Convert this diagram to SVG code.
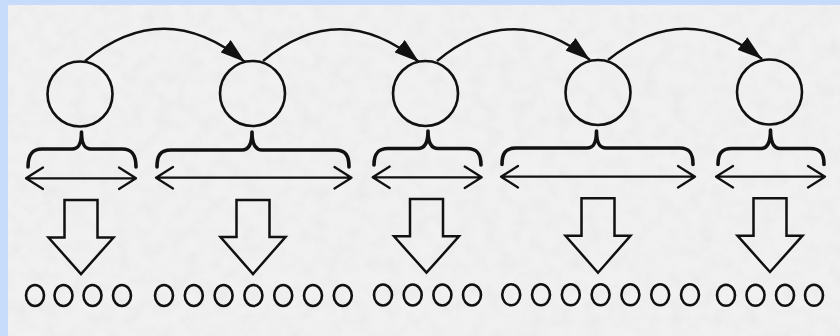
<svg xmlns="http://www.w3.org/2000/svg" width="840" height="336" viewBox="0 0 840 336">
  <defs>
    <style>
      .node { fill: none; stroke: #111; stroke-width: 2.6; }
      .conn { fill: none; stroke: #111; stroke-width: 2.4; }
      .brace { fill: none; stroke: #111; stroke-width: 3.6; stroke-linecap: round; stroke-linejoin: round; }
      .span { fill: none; stroke: #111; stroke-width: 2.3; stroke-linecap: round; stroke-linejoin: round; }
      .block { fill: none; stroke: #111; stroke-width: 2.5; stroke-linejoin: miter; }
      .item { fill: none; stroke: #111; stroke-width: 2.6; }
    </style>
    <marker id="head" markerUnits="userSpaceOnUse" markerWidth="26" markerHeight="16" refX="25" refY="8" orient="auto">
      <path d="M0,0 L25,8 L0,16 z" fill="#111"/>
    </marker>
    <filter id="paper" x="0" y="0" width="100%" height="100%">
      <feTurbulence type="fractalNoise" baseFrequency="0.07" numOctaves="4" seed="7" result="n"/>
      <feColorMatrix in="n" type="matrix" values="0 0 0 0 0.5  0 0 0 0 0.5  0 0 0 0 0.5  1.6 0 0 0 -0.6"/>
    </filter>
  </defs>

  <rect x="0" y="0" width="840" height="336" fill="#c6dcfa"/>
  <rect x="8" y="5" width="832" height="331" fill="#f1f1f1"/>
  <rect x="8" y="5" width="832" height="331" filter="url(#paper)" opacity="0.12"/>

  <g id="connectors">
    <path class="conn" d="M85,61 Q164,-4 245,62" marker-end="url(#head)"/>
    <path class="conn" d="M263,61 Q340,-3 419,62" marker-end="url(#head)"/>
    <path class="conn" d="M437,61 Q513,-2 590,60" marker-end="url(#head)"/>
    <path class="conn" d="M608,60 Q685,-2 762,59" marker-end="url(#head)"/>
  </g>

  <g id="node1"><circle class="node" cx="80" cy="94" r="32.5"/></g>
  <g id="node2"><circle class="node" cx="252.5" cy="93.5" r="32.5"/></g>
  <g id="node3"><circle class="node" cx="425.5" cy="93.5" r="32.5"/></g>
  <g id="node4"><circle class="node" cx="598" cy="92.5" r="32.5"/></g>
  <g id="node5"><circle class="node" cx="769.5" cy="92" r="32.5"/></g>

  <g id="braces">
    <path class="brace" d="M28,167 C28,156 31,149 42,149 L72,149 C78,149 81.5,145 81.5,132 C81.5,145 85,149 91,149 L122,149 C133,149 136,156 136,167"/>
    <path class="brace" d="M157,167 C157,156 160,150 171,150 L242,150 C248,150 252,146 252,132 C252,146 256,150 262,150 L335,150 C346,150 349,156 349,167"/>
    <path class="brace" d="M374,165 C374,155 377,148.5 388,148.5 L418,148.5 C424,148.5 428,144 428,131 C428,144 432,148.5 438,148.5 L467,148.5 C478,148.5 481,155 481,165"/>
    <path class="brace" d="M502,164.5 C502,154 505,148 516,148 L587,148 C593,148 596.5,144 596.5,131 C596.5,144 600,148 606,148 L680,148 C690,148 693,154 693,164.5"/>
    <path class="brace" d="M718,164.5 C718,154 721,148.5 732,148.5 L761,148.5 C767,148.5 770.5,144 770.5,130 C770.5,144 774,148.5 780,148.5 L810,148.5 C821,148.5 824,154 824,164.5"/>
  </g>

  <g id="spans">
    <path class="span" d="M26,178.3 L136,178.3 M43,167.5 L26,178.3 L43,189 M119,167.5 L136,178.3 L119,189"/>
    <path class="span" d="M156,177.7 L351.5,177.7 M173,167 L156,177.7 L173,188.5 M334.5,167 L351.5,177.7 L334.5,188.5"/>
    <path class="span" d="M372.7,177.3 L481.7,177.3 M389.7,166.5 L372.7,177.3 L389.7,188 M464.7,166.5 L481.7,177.3 L464.7,188"/>
    <path class="span" d="M501,176.7 L695,176.7 M518,166 L501,176.7 L518,187.5 M678,166 L695,176.7 L678,187.5"/>
    <path class="span" d="M716,176.7 L825,176.7 M733,166 L716,176.7 L733,187.5 M808,166 L825,176.7 L808,187.5"/>
  </g>

  <g id="blocks">
    <polygon class="block" points="64.5,200 97.5,200 97.5,237.5 113.5,237.5 81,274 48.5,237.5 64.5,237.5"/>
    <polygon class="block" points="236.5,200 269.5,200 269.5,237 285.5,237 253,274 220.5,237 236.5,237"/>
    <polygon class="block" points="410,199 443,199 443,236.3 459,236.3 426.5,272.7 394,236.3 410,236.3"/>
    <polygon class="block" points="581.5,198.3 614.5,198.3 614.5,235.7 630.5,235.7 598,272.7 565.5,235.7 581.5,235.7"/>
    <polygon class="block" points="753.5,198.3 786.5,198.3 786.5,235.7 802.5,235.7 770,272 737.5,235.7 753.5,235.7"/>
  </g>

  <g id="items">
    <ellipse class="item" cx="35" cy="295.5" rx="9" ry="10.5"/>
    <ellipse class="item" cx="63.5" cy="295.5" rx="9" ry="10.5"/>
    <ellipse class="item" cx="92.5" cy="295.5" rx="9" ry="10.5"/>
    <ellipse class="item" cx="122" cy="295.5" rx="9" ry="10.5"/>

    <ellipse class="item" cx="164" cy="295.5" rx="9" ry="10.5"/>
    <ellipse class="item" cx="193.8" cy="295.5" rx="9" ry="10.5"/>
    <ellipse class="item" cx="223.6" cy="295.5" rx="9" ry="10.5"/>
    <ellipse class="item" cx="253.4" cy="295.5" rx="9" ry="10.5"/>
    <ellipse class="item" cx="283.2" cy="295.5" rx="9" ry="10.5"/>
    <ellipse class="item" cx="313" cy="295.5" rx="9" ry="10.5"/>
    <ellipse class="item" cx="342.8" cy="295.5" rx="9" ry="10.5"/>

    <ellipse class="item" cx="383" cy="295" rx="9" ry="10.5"/>
    <ellipse class="item" cx="412.7" cy="295" rx="9" ry="10.5"/>
    <ellipse class="item" cx="442.4" cy="295" rx="9" ry="10.5"/>
    <ellipse class="item" cx="472" cy="295" rx="9" ry="10.5"/>

    <ellipse class="item" cx="511.2" cy="294.8" rx="9" ry="10.5"/>
    <ellipse class="item" cx="541" cy="294.8" rx="9" ry="10.5"/>
    <ellipse class="item" cx="570.8" cy="294.8" rx="9" ry="10.5"/>
    <ellipse class="item" cx="600.6" cy="294.8" rx="9" ry="10.5"/>
    <ellipse class="item" cx="630.4" cy="294.8" rx="9" ry="10.5"/>
    <ellipse class="item" cx="660.2" cy="294.8" rx="9" ry="10.5"/>
    <ellipse class="item" cx="690" cy="294.8" rx="9" ry="10.5"/>

    <ellipse class="item" cx="726" cy="295.3" rx="9" ry="10.5"/>
    <ellipse class="item" cx="755.5" cy="295.3" rx="9" ry="10.5"/>
    <ellipse class="item" cx="785" cy="295.3" rx="9" ry="10.5"/>
    <ellipse class="item" cx="814" cy="295.3" rx="9" ry="10.5"/>
  </g>
</svg>
